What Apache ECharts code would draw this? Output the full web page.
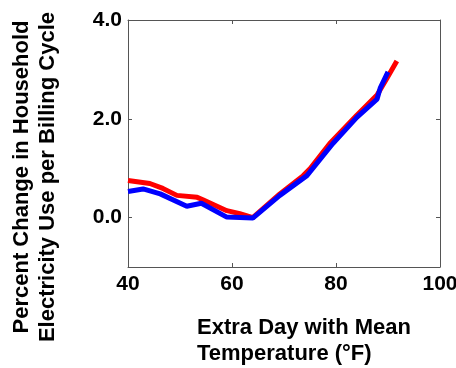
<!DOCTYPE html>
<html>
<head>
<meta charset="utf-8">
<script src="https://cdn.jsdelivr.net/npm/echarts@6/dist/echarts.min.js"></script>
<style>
  html, body { margin: 0; padding: 0; background: #fff; }
</style>
</head>
<body>
<div id="chart" style="width: 456px;height: 368px"></div>
<script>
// red curve: [temperature F, percent change]
var redData = [
  [40, 0.75], [44.2, 0.69], [46.7, 0.59], [49.4, 0.45], [53.3, 0.41],
  [54.4, 0.36], [59, 0.14], [61.5, 0.08], [64, 0.0], [69.2, 0.48],
  [73.7, 0.85], [75, 0.99], [78.8, 1.5], [84, 2.07], [87.9, 2.48],
  [89.8, 2.82], [91.7, 3.17]
];
// blue curve
var blueData = [
  [40, 0.53], [42.9, 0.58], [46.2, 0.48], [51.3, 0.23], [54.1, 0.29],
  [59, 0.01], [64, -0.01], [69.2, 0.45], [74.4, 0.85], [79.4, 1.5],
  [84, 2.03], [87.9, 2.4], [88.5, 2.62], [90, 2.95]
];
var yTicks = [0, 2, 4];

var font = 'Liberation Sans, Arial, sans-serif';
var myChart = echarts.init(document.getElementById('chart'));

var axisLine = { show: true, onZero: false, lineStyle: { color: '#555', width: 1 } };
var tick = { inside: true, length: 4, lineStyle: { color: '#555' } };

myChart.setOption({
  animation: false,
  grid: { left: 128, right: 16, top: 20, bottom: 101, outerBoundsMode: 'none', containLabel: false },
  xAxis: [
    {
      type: 'value', min: 40, max: 100, interval: 20,
      axisLine: axisLine, axisTick: tick,
      splitLine: { show: false },
      axisLabel: { color: '#000', fontFamily: font, fontWeight: 'bold', fontSize: 21, margin: 7 }
    },
    {
      type: 'value', min: 40, max: 100, interval: 20, position: 'top',
      axisLine: axisLine, axisTick: tick,
      splitLine: { show: false },
      axisLabel: { show: false }
    }
  ],
  yAxis: [
    {
      type: 'value', min: -1, max: 4,
      axisLine: axisLine,
      axisTick: { inside: true, length: 4, customValues: yTicks, lineStyle: { color: '#555' } },
      splitLine: { show: false },
      axisLabel: {
        customValues: yTicks,
        formatter: function (v) { return v.toFixed(1); },
        color: '#000', fontFamily: font, fontWeight: 'bold', fontSize: 21, margin: 6
      }
    },
    {
      type: 'value', min: -1, max: 4, position: 'right',
      axisLine: axisLine,
      axisTick: { inside: true, length: 4, customValues: yTicks, lineStyle: { color: '#555' } },
      splitLine: { show: false },
      axisLabel: { show: false }
    }
  ],
  graphic: [
    {
      type: 'text', x: 35, y: 177, rotation: Math.PI / 2,
      style: {
        text: 'Percent Change in Household\nElectricity Use per Billing Cycle',
        x: 0, y: 0, align: 'center', verticalAlign: 'middle',
        font: 'bold 22px ' + font, fill: '#000', lineHeight: 26
      }
    },
    {
      type: 'text', x: 197, y: 341,
      style: {
        text: 'Extra Day with Mean\nTemperature (°F)',
        align: 'left', verticalAlign: 'middle',
        font: 'bold 22px ' + font, fill: '#000', lineHeight: 26
      }
    }
  ],
  series: [
    {
      name: 'red', type: 'line', data: redData, showSymbol: false,
      xAxisIndex: 0, yAxisIndex: 0,
      lineStyle: { color: '#ff0000', width: 5 }, z: 2
    },
    {
      name: 'blue', type: 'line', data: blueData, showSymbol: false,
      xAxisIndex: 0, yAxisIndex: 0,
      lineStyle: { color: '#0000ff', width: 5 }, z: 3
    }
  ]
});
</script>
</body>
</html>
